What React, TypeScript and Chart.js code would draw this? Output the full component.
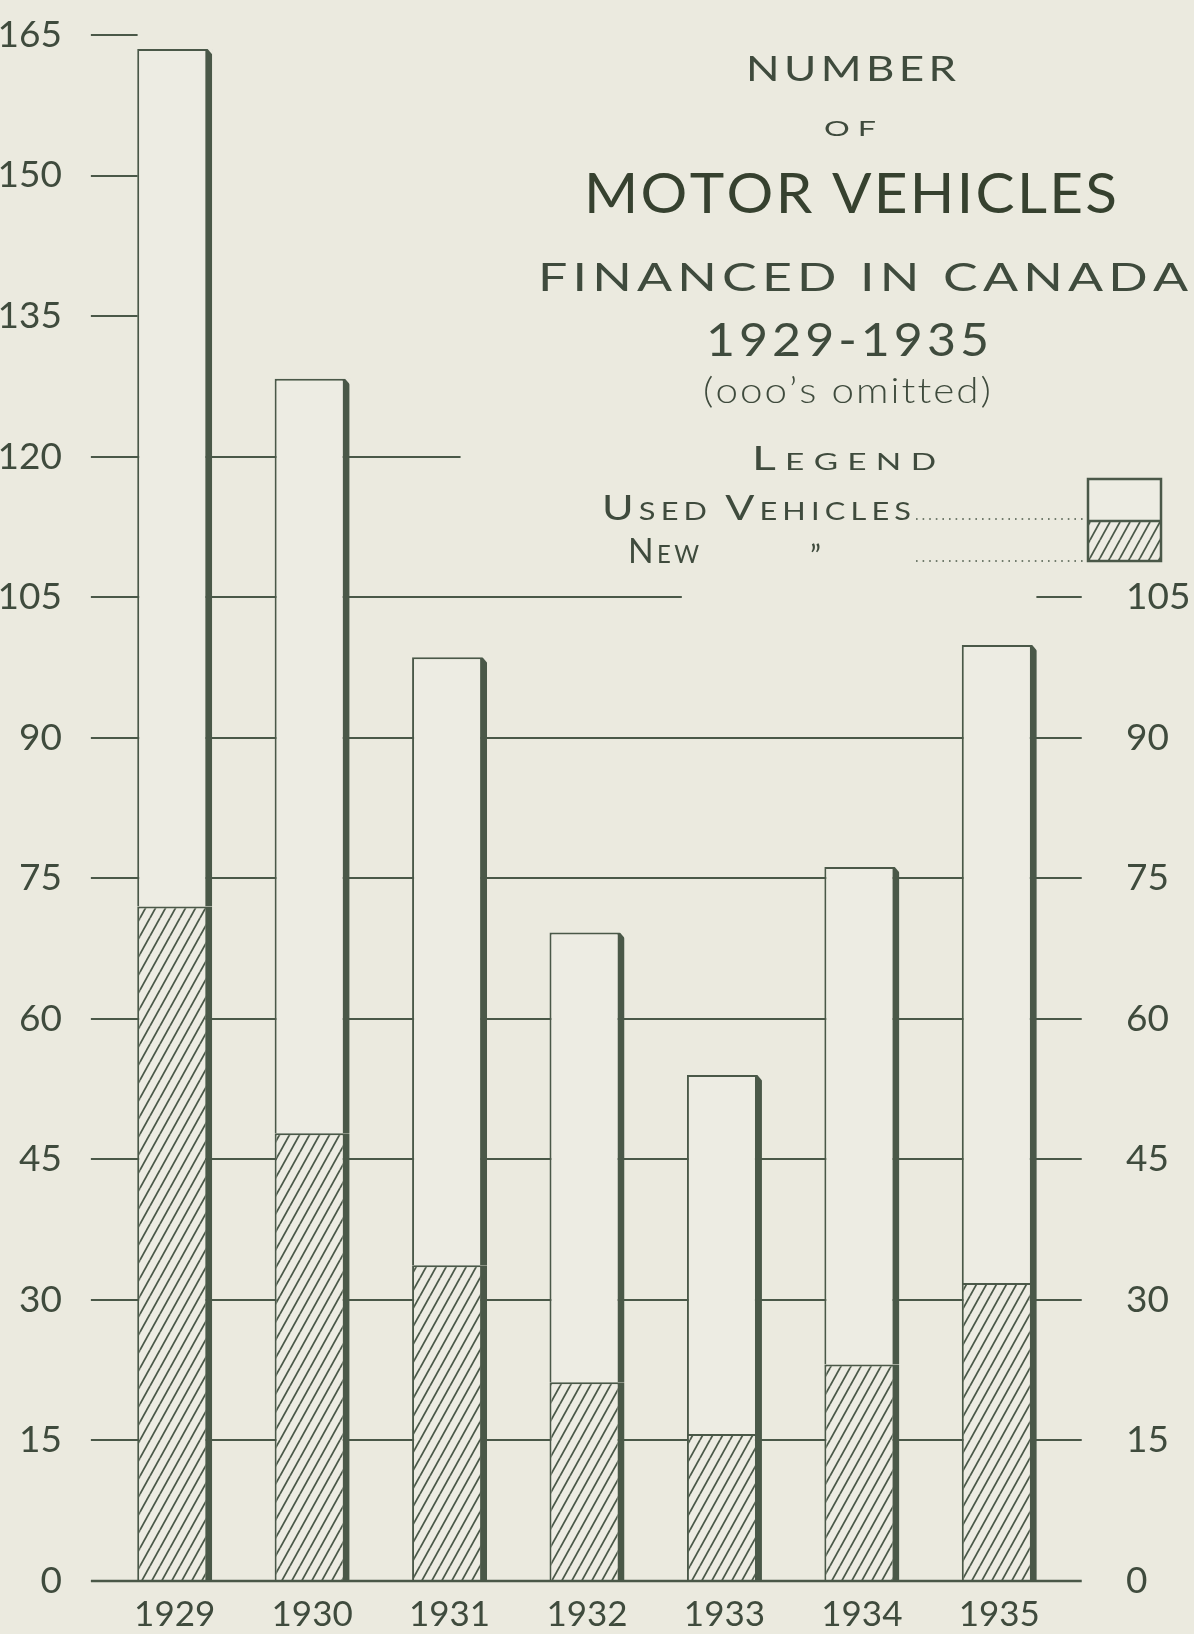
import React, { useEffect, useRef } from 'react';
import { Chart, registerables } from 'chart.js';

Chart.register(...registerables);

// ---------- data ----------
const YEARS = ['1929', '1930', '1931', '1932', '1933', '1934', '1935'];
const NEW_VEHICLES = [72.0, 47.8, 33.7, 21.2, 15.7, 23.1, 31.8];
const USED_VEHICLES = [91.5, 80.5, 64.9, 48.0, 38.3, 53.1, 68.1];
const LEFT_TICKS = [0, 15, 30, 45, 60, 75, 90, 105, 120, 135, 150, 165];
const RIGHT_TICKS = [0, 15, 30, 45, 60, 75, 90, 105];
const GRID_VALUES = [15, 30, 45, 60, 75, 90, 105, 120, 135, 150, 165];

// ---------- style ----------
const W = 1194;
const H = 1634;
const BG = '#ebeadf';
const USED_FILL = '#edece3';
const LINE = '#4a5848';
const TEXT = '#3f4b3d';
const DARK = '#36412f';
const FAMILY = 'Lato, "Open Sans", "DejaVu Sans", sans-serif';

// gridline extents in category units
const GRID_LEFT = -0.61;
const GRID_RIGHT = 6.6;
const RIGHT_TICK_START = 6.27;
const LEFT_TICK_END = -0.27;
const GRID_END: Record<number, number> = {
  165: LEFT_TICK_END,
  150: LEFT_TICK_END,
  135: LEFT_TICK_END,
  120: 2.08,
  105: 3.69,
};

type Seg = { text: string; size: number; weight?: number };

// draws text so that it spans x0..x1, stretching glyphs horizontally
function drawFitted(
  ctx: CanvasRenderingContext2D,
  segs: Seg[],
  x0: number,
  x1: number,
  baseline: number,
  color: string,
  lsEm = 0.15,
) {
  const chars: { ch: string; font: string; w: number }[] = [];
  let maxSize = 0;
  for (const s of segs) {
    const font = `${s.weight ?? 400} ${s.size}px ${FAMILY}`;
    maxSize = Math.max(maxSize, s.size);
    ctx.font = font;
    for (const ch of s.text) {
      chars.push({ ch, font, w: ctx.measureText(ch).width });
    }
  }
  const ls = lsEm * maxSize;
  const natural = chars.reduce((a, c) => a + c.w, 0) + ls * (chars.length - 1);
  const sx = (x1 - x0) / natural;
  ctx.save();
  ctx.fillStyle = color;
  ctx.textAlign = 'left';
  ctx.textBaseline = 'alphabetic';
  ctx.translate(x0, baseline);
  ctx.scale(sx, 1);
  let x = 0;
  for (const c of chars) {
    ctx.font = c.font;
    ctx.fillText(c.ch, x, 0);
    x += c.w + ls;
  }
  ctx.restore();
}

function makeHatch(ctx: CanvasRenderingContext2D, bg: string, color: string) {
  const w = 10;
  const h = 18;
  const c = document.createElement('canvas');
  c.width = w;
  c.height = h;
  const g = c.getContext('2d')!;
  g.fillStyle = bg;
  g.fillRect(0, 0, w, h);
  g.strokeStyle = color;
  g.lineWidth = 1.8;
  for (const k of [-1, 0, 1]) {
    g.beginPath();
    g.moveTo(k * w, h);
    g.lineTo(k * w + w, 0);
    g.stroke();
  }
  return ctx.createPattern(c, 'repeat') as CanvasPattern;
}

export default function App() {
  const ref = useRef<HTMLCanvasElement | null>(null);

  useEffect(() => {
    document.body.style.margin = '0';
    document.body.style.background = BG;
    const canvas = ref.current!;
    const ctx0 = canvas.getContext('2d')!;
    const hatch = makeHatch(ctx0, USED_FILL, LINE);

    const hline = (ctx: CanvasRenderingContext2D, xa: number, xb: number, y: number) => {
      ctx.beginPath();
      ctx.moveTo(xa, y);
      ctx.lineTo(xb, y);
      ctx.stroke();
    };

    const decor = {
      id: 'decor',
      beforeDraw(chart: any) {
        const ctx = chart.ctx;
        ctx.save();
        ctx.fillStyle = BG;
        ctx.fillRect(0, 0, chart.width, chart.height);
        ctx.restore();
      },
      beforeDatasetsDraw(chart: any) {
        const ctx = chart.ctx as CanvasRenderingContext2D;
        const xs = chart.scales.x;
        const ys = chart.scales.y;
        ctx.save();
        ctx.strokeStyle = LINE;
        ctx.lineWidth = 2;
        const xl = xs.getPixelForValue(GRID_LEFT);
        const xr = xs.getPixelForValue(GRID_RIGHT);
        for (const v of GRID_VALUES) {
          const py = Math.round(ys.getPixelForValue(v));
          const end = GRID_END[v] ?? GRID_RIGHT;
          hline(ctx, xl, xs.getPixelForValue(end), py);
          if (RIGHT_TICKS.includes(v) && end < RIGHT_TICK_START) {
            hline(ctx, xs.getPixelForValue(RIGHT_TICK_START), xr, py);
          }
        }
        ctx.restore();
      },
      afterDatasetsDraw(chart: any) {
        const ctx = chart.ctx as CanvasRenderingContext2D;
        const xs = chart.scales.x;
        const ys = chart.scales.y;
        ctx.save();
        // chamfer the top-right corner of each stacked bar (shadow effect)
        const meta = chart.getDatasetMeta(1);
        ctx.fillStyle = BG;
        for (const el of meta.data) {
          const p = el.getProps(['x', 'y', 'width'], true);
          const right = p.x + p.width / 2;
          ctx.beginPath();
          ctx.moveTo(right - 5, p.y - 0.5);
          ctx.lineTo(right + 0.5, p.y - 0.5);
          ctx.lineTo(right + 0.5, p.y + 6);
          ctx.closePath();
          ctx.fill();
        }
        ctx.strokeStyle = LINE;
        ctx.lineWidth = 2.5;
        hline(ctx, xs.getPixelForValue(GRID_LEFT), xs.getPixelForValue(GRID_RIGHT), Math.round(ys.getPixelForValue(0)));
        ctx.restore();
      },
      afterDraw(chart: any) {
        const ctx = chart.ctx as CanvasRenderingContext2D;
        ctx.save();
        drawFitted(ctx, [{ text: 'NUMBER', size: 35 }], 746, 956, 81, TEXT, 0.1);
        drawFitted(ctx, [{ text: 'OF', size: 22 }], 824, 876, 136, TEXT, 0.25);
        drawFitted(ctx, [{ text: 'MOTOR VEHICLES', size: 57 }], 584, 1117, 213, DARK, 0.04);
        drawFitted(ctx, [{ text: 'FINANCED IN CANADA', size: 39 }], 538, 1188, 291, TEXT, 0.1);
        drawFitted(ctx, [{ text: '1929-1935', size: 47 }], 706, 989, 356, TEXT, 0.08);
        drawFitted(ctx, [{ text: '(ooo’s omitted)', size: 36, weight: 300 }], 703, 991, 403, TEXT, 0.05);
        drawFitted(ctx, [{ text: 'L', size: 32 }, { text: 'EGEND', size: 23 }], 752, 936, 470, TEXT, 0.2);
        drawFitted(
          ctx,
          [
            { text: 'U', size: 35 },
            { text: 'SED', size: 25 },
            { text: ' ', size: 25 },
            { text: 'V', size: 35 },
            { text: 'EHICLES', size: 25 },
          ],
          602,
          911,
          520,
          TEXT,
          0.12,
        );
        drawFitted(ctx, [{ text: 'N', size: 35 }, { text: 'EW', size: 25 }], 628, 699, 563, TEXT, 0.1);
        ctx.font = `400 30px ${FAMILY}`;
        ctx.fillStyle = TEXT;
        ctx.textAlign = 'left';
        ctx.textBaseline = 'alphabetic';
        ctx.fillText('”', 810, 567);

        // dotted leaders
        ctx.strokeStyle = LINE;
        ctx.lineWidth = 1.6;
        ctx.setLineDash([1.6, 5]);
        hline(ctx, 916, 1083, 519);
        hline(ctx, 916, 1083, 561);
        ctx.setLineDash([]);

        // legend box
        const bx = 1088, by = 479, bw = 73, bh = 82, mid = 521;
        ctx.fillStyle = USED_FILL;
        ctx.fillRect(bx, by, bw, mid - by);
        ctx.fillStyle = hatch;
        ctx.fillRect(bx, mid, bw, by + bh - mid);
        ctx.lineWidth = 2.5;
        ctx.strokeRect(bx, by, bw, bh);
        hline(ctx, bx, bx + bw, mid);
        ctx.restore();
      },
    };

    const tickFont = { family: FAMILY, size: 37, weight: '400' as any };
    const zeroPad = (s: any) => {
      s.paddingTop = 0;
      s.paddingBottom = 0;
    };

    const chart = new Chart(canvas, {
      type: 'bar',
      data: {
        labels: YEARS,
        datasets: [
          {
            label: 'New',
            data: NEW_VEHICLES,
            backgroundColor: hatch,
            borderColor: LINE,
            borderWidth: { top: 2, left: 2, right: 7, bottom: 0 },
            borderSkipped: 'bottom',
            barThickness: 75,
            inflateAmount: 0,
          },
          {
            label: 'Used Vehicles',
            data: USED_VEHICLES,
            backgroundColor: USED_FILL,
            borderColor: LINE,
            borderWidth: { top: 2, left: 2, right: 7, bottom: 0 },
            borderSkipped: 'bottom',
            barThickness: 75,
            inflateAmount: 0,
          },
        ],
      },
      options: {
        responsive: false,
        animation: false,
        devicePixelRatio: 1,
        layout: { padding: { top: 35, left: 0, right: 0, bottom: 0 } },
        plugins: {
          legend: { display: false },
          title: { display: false },
          tooltip: { enabled: false },
        },
        scales: {
          x: {
            type: 'category',
            stacked: true,
            offset: true,
            grid: { display: false },
            border: { display: false },
            ticks: { font: { family: FAMILY, size: 35, weight: '400' as any }, color: TEXT, padding: 5, maxRotation: 0, autoSkip: false },
            afterFit: (s: any) => {
              s.height = 53;
              s.paddingLeft = 0;
              s.paddingRight = 0;
            },
          },
          y: {
            type: 'linear',
            stacked: true,
            position: 'left',
            min: 0,
            max: 165,
            grid: { display: false },
            border: { display: false },
            ticks: { font: tickFont, color: TEXT, padding: 36 },
            afterBuildTicks: (s: any) => {
              s.ticks = LEFT_TICKS.map((value) => ({ value }));
            },
            afterFit: (s: any) => {
              s.width = 106;
              zeroPad(s);
            },
          },
          y2: {
            type: 'linear',
            position: 'right',
            min: 0,
            max: 165,
            grid: { display: false },
            border: { display: false },
            ticks: { font: tickFont, color: TEXT, padding: 50 },
            afterBuildTicks: (s: any) => {
              s.ticks = RIGHT_TICKS.map((value) => ({ value }));
            },
            afterFit: (s: any) => {
              s.width = 126;
              zeroPad(s);
            },
          },
        },
      } as any,
      plugins: [decor as any],
    });

    return () => chart.destroy();
  }, []);

  return (
    <div style={{ position: 'absolute', left: 0, top: 0, width: W, height: H, background: BG }}>
      <canvas ref={ref} width={W} height={H} style={{ display: 'block', width: W, height: H }} />
    </div>
  );
}
